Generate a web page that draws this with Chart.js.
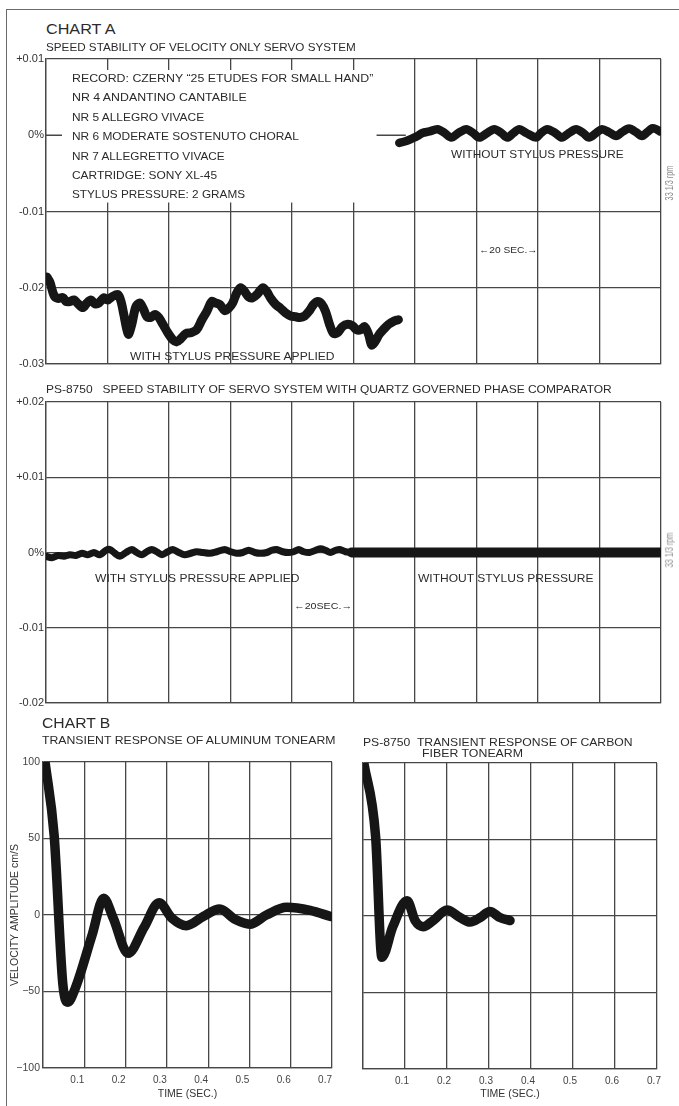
<!DOCTYPE html>
<html>
<head>
<meta charset="utf-8">
<script src="https://cdn.jsdelivr.net/npm/chart.js@4.4.1/dist/chart.umd.min.js"></script>
<style>
  html, body { margin: 0; padding: 0; background: #fff; }
  #page { position: relative; width: 679px; height: 1106px; overflow: hidden;
          font-family: "Liberation Sans", Arial, sans-serif; color: #2b2b2b; }
  canvas { position: absolute; }
  .t { position: absolute; white-space: nowrap; line-height: 1; transform-origin: left center; }
  .rpm { position: absolute; white-space: nowrap; line-height: 1; color: #8a8a8a; font-size: 10px; }
  #frameTop { position: absolute; left: 6px; top: 9px; width: 680px; height: 0; border-top: 1.5px solid #6a6a6a; }
  #frameLeft { position: absolute; left: 6px; top: 9px; width: 0; height: 1100px; border-left: 1.5px solid #6a6a6a; }
</style>
</head>
<body>
<div id="page">
  <div id="frameTop"></div>
  <div id="frameLeft"></div>

  <canvas id="chartA1" width="679" height="330" style="left:0;top:50px"></canvas>
  <canvas id="chartA2" width="679" height="330" style="left:0;top:392px"></canvas>
  <canvas id="chartB1" width="345" height="354" style="left:0;top:752px"></canvas>
  <canvas id="chartB2" width="334" height="354" style="left:345px;top:752px"></canvas>

  <div class="t" data-x="46" data-y="28" data-w="69" style="font-size:15px">CHART A</div>
  <div class="t" data-x="46" data-y="47" data-w="310" style="font-size:11px">SPEED STABILITY OF VELOCITY ONLY SERVO SYSTEM</div>
  <div class="t" data-x="72" data-y="78" data-w="301" style="font-size:11px">RECORD: CZERNY “25 ETUDES FOR SMALL HAND”</div>
  <div class="t" data-x="72" data-y="97" data-w="175" style="font-size:11px">NR 4 ANDANTINO CANTABILE</div>
  <div class="t" data-x="72" data-y="117" data-w="132" style="font-size:11px">NR 5 ALLEGRO VIVACE</div>
  <div class="t" data-x="72" data-y="136" data-w="227" style="font-size:11px">NR 6 MODERATE SOSTENUTO CHORAL</div>
  <div class="t" data-x="72" data-y="156" data-w="153" style="font-size:11px">NR 7 ALLEGRETTO VIVACE</div>
  <div class="t" data-x="72" data-y="175" data-w="145" style="font-size:11px">CARTRIDGE: SONY XL-45</div>
  <div class="t" data-x="72" data-y="194" data-w="173" style="font-size:11px">STYLUS PRESSURE: 2 GRAMS</div>
  <div class="t" data-x="451" data-y="154" data-w="173" style="font-size:11px">WITHOUT STYLUS PRESSURE</div>
  <div class="t" data-x="479" data-y="250" data-w="59" style="font-size:9px">←20 SEC.→</div>
  <div class="t" data-x="130" data-y="356" data-w="204" style="font-size:11px">WITH STYLUS PRESSURE APPLIED</div>

  <div class="t" data-x="46" data-y="389" data-w="566" style="font-size:11px">PS-8750&nbsp;&nbsp; SPEED STABILITY OF SERVO SYSTEM WITH QUARTZ GOVERNED PHASE COMPARATOR</div>
  <div class="t" data-x="95" data-y="578" data-w="204" style="font-size:11px">WITH STYLUS PRESSURE APPLIED</div>
  <div class="t" data-x="418" data-y="578" data-w="176" style="font-size:11px">WITHOUT STYLUS PRESSURE</div>
  <div class="t" data-x="294" data-y="606" data-w="58" style="font-size:9px">←20SEC.→</div>

  <div class="t" data-x="42" data-y="722" data-w="68" style="font-size:15px">CHART B</div>
  <div class="t" data-x="42" data-y="740" data-w="293" style="font-size:11px">TRANSIENT RESPONSE OF ALUMINUM TONEARM</div>
  <div class="t" data-x="363" data-y="742" data-w="270" style="font-size:11px">PS-8750&nbsp; TRANSIENT RESPONSE OF CARBON</div>
  <div class="t" data-x="422" data-y="753" data-w="101" style="font-size:11px">FIBER TONEARM</div>

  <div class="rpm" data-cx="670" data-cy="183" data-len="35">33 1/3 rpm</div>
  <div class="rpm" data-cx="670" data-cy="550" data-len="35">33 1/3 rpm</div>
</div>

<script>
// ---- Chart A, upper panel: velocity-only servo (time in s, 20 s per division; speed deviation in %)
const divisionsA = [0, 20, 40, 60, 80, 100, 120, 140, 160, 180, 200];

const velWithTime = [0.3, 1.3, 2.6, 3.9, 5.5, 6.5, 7.8, 9.1, 10.4, 12.0,
  13.3, 14.6, 15.9, 17.2, 18.8, 20.1, 21.4, 23.4, 24.4, 25.3,
  26.3, 26.9, 27.9, 29.2, 30.5, 31.8, 32.8, 34.1, 35.4, 36.7,
  38.0, 39.6, 41.2, 42.5, 43.8, 45.5, 47.1, 49.0, 50.7, 52.3,
  53.9, 55.2, 56.5, 58.1, 59.4, 60.7, 62.0, 63.3, 64.6, 65.9,
  67.2, 68.8, 70.5, 71.8, 73.1, 74.7, 76.3, 77.9, 79.6, 81.2,
  82.5, 84.1, 85.7, 87.0, 88.3, 89.6, 90.9, 92.2, 93.5, 94.8,
  96.4, 98.1, 99.7, 101.0, 102.3, 103.6, 104.9, 105.9, 106.8, 108.4,
  109.7, 111.4, 113.0, 114.6];
const velWithSpeed = [-0.0186, -0.0193, -0.0210, -0.0214, -0.0213, -0.0218, -0.0218, -0.0216, -0.0221, -0.0226,
  -0.0220, -0.0216, -0.0221, -0.0220, -0.0213, -0.0216, -0.0212, -0.0209, -0.0218, -0.0235,
  -0.0255, -0.0261, -0.0248, -0.0225, -0.0220, -0.0229, -0.0238, -0.0239, -0.0235, -0.0239,
  -0.0248, -0.0259, -0.0268, -0.0271, -0.0267, -0.0260, -0.0259, -0.0255, -0.0242, -0.0231,
  -0.0218, -0.0220, -0.0222, -0.0230, -0.0227, -0.0220, -0.0207, -0.0200, -0.0205, -0.0212,
  -0.0213, -0.0208, -0.0200, -0.0205, -0.0214, -0.0222, -0.0227, -0.0233, -0.0237, -0.0238,
  -0.0239, -0.0237, -0.0230, -0.0222, -0.0218, -0.0221, -0.0231, -0.0248, -0.0260, -0.0259,
  -0.0251, -0.0248, -0.0250, -0.0255, -0.0255, -0.0251, -0.0261, -0.0275, -0.0272, -0.0261,
  -0.0255, -0.0248, -0.0244, -0.0242];

const velFreeTime = [114.9, 116.9, 119.2, 120.8, 122.4, 124.7, 127.3, 129.6, 131.8, 134.1,
  136.7, 138.9, 140.9, 143.5, 145.8, 148.1, 150.0, 152.0, 153.9, 156.2,
  159.4, 161.0, 163.0, 165.6, 167.8, 170.1, 172.4, 174.7, 176.6, 178.9,
  180.8, 183.1, 185.4, 187.3, 189.6, 191.9, 193.8, 195.5, 197.1, 198.4,
  199.7];
const velFreeSpeed = [-0.0010, -0.0008, -0.0004, -0.0001, 0.0003, 0.0005, 0.0008, 0.0003, -0.0003, 0.0003,
  0.0008, 0.0003, -0.0003, 0.0003, 0.0008, 0.0003, -0.0003, 0.0003, 0.0008, 0.0003,
  -0.0003, 0.0003, 0.0008, 0.0003, -0.0003, 0.0003, 0.0008, 0.0003, -0.0003, 0.0003,
  0.0008, 0.0004, -0.0001, 0.0004, 0.0009, 0.0004, -0.0001, 0.0004, 0.0009, 0.0008,
  0.0005];

const speedTicksA1 = [0.01, 0, -0.01, -0.02, -0.03];
const speedLabelsA1 = ["+0.01", "0%", "-0.01", "-0.02", "-0.03"];

// ---- Chart A, lower panel: PS-8750 quartz phase comparator
const quartzWithTime = [0, 1.9, 3.9, 5.8, 7.8, 9.7, 11.7, 13.6, 15.6, 17.5, 19.5, 20.8, 22.4, 24.0, 26.0,
  27.9, 29.5, 31.2, 32.8, 34.4, 36.0, 37.7, 39.6, 41.2, 43.2, 45.1, 47.1, 49.0, 51.0, 53.2,
  55.5, 58.1, 60.1, 62.0, 64.0, 65.9, 67.9, 69.8, 71.8, 73.4, 75.0, 77.0, 78.9, 80.5, 82.2,
  83.8, 85.7, 87.7, 89.3, 90.9, 92.5, 94.2, 95.5, 97.4, 99.4];
const quartzWithSpeed = [-0.0005, -0.0007, -0.0004, -0.0005, -0.0003, -0.0004, -0.0001, -0.0003, 0, -0.0003,
  0.0003, 0.0004, -0.0001, -0.0005, 0, 0.0004, 0, -0.0003, 0.0001, 0.0004,
  0.0001, -0.0003, 0.0001, 0.0004, 0, -0.0003, -0.0001, 0.0001, 0, -0.0001,
  0.0001, 0.0004, 0.0001, -0.0001, 0, 0.0003, 0, -0.0001, 0, 0.0003,
  0.0004, 0.0001, 0, 0.0001, 0.0004, 0.0001, 0, 0.0003, 0.0005, 0.0003,
  0, 0.0003, 0.0004, 0.0001, 0];
const quartzFreeTime = [99.4, 120, 140, 160, 180, 200];
const quartzFreeSpeed = [0, 0, 0, 0, 0, 0];

const speedTicksA2 = [0.02, 0.01, 0, -0.01, -0.02];
const speedLabelsA2 = ["+0.02", "+0.01", "0%", "-0.01", "-0.02"];

// ---- Chart B: transient response (time in s, velocity amplitude in cm/s)
const aluminumTime = [0.005, 0.027, 0.048, 0.060, 0.078, 0.119, 0.147, 0.170, 0.206, 0.245, 0.281,
  0.312, 0.347, 0.388, 0.428, 0.466, 0.501, 0.541, 0.590, 0.647, 0.697];
const aluminumVelocity = [100, 52, -45, -57, -48, -13, 11, -2, -25, -8, 8, -2, -7, -1, 4, -3, -6, 0, 5, 3, -1];

const carbonTime = [0.002, 0.030, 0.045, 0.071, 0.105, 0.124, 0.143, 0.167, 0.200, 0.231, 0.255,
  0.279, 0.302, 0.326, 0.350];
const carbonVelocity = [100, 52, -27, -7, 10, -3, -7, -3, 4, -1, -4, -1, 3, -1, -3];

const timeTicksB = [0, 0.1, 0.2, 0.3, 0.4, 0.5, 0.6, 0.7];
const timeLabelsB = ["", "0.1", "0.2", "0.3", "0.4", "0.5", "0.6", "0.7"];
const velocityTicks = [100, 50, 0, -50, -100];
const velocityLabels = ["100", "50", "0", "−50", "−100"];

Chart.defaults.font.family = "'Liberation Sans', Arial, sans-serif";
Chart.defaults.color = "#333";

const INK = "#161616";
const GRID = "#474747";

function pts(xs, ys) {
  return xs.map((x, i) => ({ x: x, y: ys[i] }));
}
function labelFor(values, labels) {
  return function (v) {
    const i = values.findIndex(t => Math.abs(t - v) < 1e-9);
    return i < 0 ? "" : labels[i];
  };
}
function fixedTicks(values) {
  return function (scale) {
    scale.ticks = values.map(v => ({ value: v }));
  };
}
function trace(xs, ys, width, smooth) {
  const ds = {
    data: pts(xs, ys), borderColor: INK, borderWidth: width, pointRadius: 0,
    borderCapStyle: "round", borderJoinStyle: "round", fill: false
  };
  if (smooth === "monotone") ds.cubicInterpolationMode = "monotone";
  else ds.tension = 0.3;
  return ds;
}

const baseOpts = { responsive: false, animation: false, devicePixelRatio: 1 };
const noPlugins = { legend: { display: false }, tooltip: { enabled: false } };

function speedChart(id, yTicks, yLabels, datasets, pad, hideZero, extra) {
  return new Chart(document.getElementById(id), {
    type: "line",
    data: { datasets: datasets },
    options: Object.assign({}, baseOpts, {
      layout: { padding: pad },
      plugins: noPlugins,
      scales: {
        x: {
          type: "linear", min: 0, max: 200,
          afterBuildTicks: fixedTicks(divisionsA),
          ticks: { display: false },
          grid: { color: GRID, lineWidth: 1.3, drawTicks: false },
          border: { color: GRID, width: 1.3 },
          afterFit: s => { s.height = 0; }
        },
        y: {
          min: yTicks[yTicks.length - 1], max: yTicks[0],
          afterBuildTicks: fixedTicks(yTicks),
          ticks: { callback: labelFor(yTicks, yLabels), padding: 2, font: { size: 11 }, color: "#333" },
          grid: {
            lineWidth: 1.3, drawTicks: false,
            color: c => (hideZero && c.tick && c.tick.value === 0) ? "rgba(0,0,0,0)" : GRID
          },
          border: { color: GRID, width: 1.3 },
          afterFit: s => { s.width = 46; }
        }
      }
    }),
    plugins: extra || []
  });
}

// text block in the upper-left of the first panel interrupts the grid
const recordBox = {
  id: "recordBox",
  beforeDatasetsDraw(chart) {
    const { ctx, scales: { x, y } } = chart;
    const left = x.left, top = y.top;
    const boxRight = x.getPixelForValue(120);
    const boxBottom = y.getPixelForValue(-0.01);
    const y0 = y.getPixelForValue(0);
    ctx.save();
    ctx.fillStyle = "#fff";
    ctx.fillRect(left + 1, top + 11, boxRight - left - 2, boxBottom - top - 20);
    ctx.strokeStyle = GRID;
    ctx.lineWidth = 1.3;
    ctx.beginPath();
    ctx.moveTo(left, y0);
    ctx.lineTo(left + 16, y0);
    ctx.moveTo(x.getPixelForValue(107.5), y0);
    ctx.lineTo(x.getPixelForValue(117), y0);
    ctx.stroke();
    ctx.restore();
  }
};

speedChart("chartA1", speedTicksA1, speedLabelsA1, [
  trace(velWithTime, velWithSpeed, 9),
  trace(velFreeTime, velFreeSpeed, 8.5)
], { top: 9, right: 18, bottom: 16, left: 0 }, true, [recordBox]);

speedChart("chartA2", speedTicksA2, speedLabelsA2, [
  trace(quartzWithTime, quartzWithSpeed, 7),
  trace(quartzFreeTime, quartzFreeSpeed, 10, "monotone")
], { top: 10, right: 18, bottom: 19, left: 0 }, false);

function transientChart(id, xs, ys, opts) {
  return new Chart(document.getElementById(id), {
    type: "line",
    data: { datasets: [trace(xs, ys, 9.5, "monotone")] },
    options: Object.assign({}, baseOpts, {
      layout: { padding: opts.pad },
      plugins: noPlugins,
      scales: {
        x: {
          type: "linear", min: 0, max: 0.7,
          afterBuildTicks: fixedTicks(timeTicksB),
          ticks: {
            callback: labelFor(timeTicksB, timeLabelsB), padding: 6, labelOffset: opts.labelOffset,
            maxRotation: 0, autoSkip: false, font: { size: 10 }, color: "#444"
          },
          grid: { color: GRID, lineWidth: 1.3, drawTicks: false },
          border: { color: GRID, width: 1.3 },
          title: { display: true, text: "TIME (SEC.)", font: { size: 10.5 }, color: "#333", padding: { top: 0, bottom: 6 } },
          afterFit: s => { s.height = opts.xHeight; }
        },
        y: {
          min: -100, max: 100,
          afterBuildTicks: fixedTicks(velocityTicks),
          ticks: {
            display: opts.yLabels, callback: labelFor(velocityTicks, velocityLabels),
            padding: 3, font: { size: 10.5 }, color: "#444"
          },
          grid: { color: GRID, lineWidth: 1.3, drawTicks: false },
          border: { color: GRID, width: 1.3 },
          title: {
            display: opts.yLabels, text: "VELOCITY AMPLITUDE cm/S", font: { size: 10.5 },
            color: "#333", padding: { top: 9, bottom: 0 }
          },
          afterFit: s => { s.width = opts.yWidth; }
        }
      }
    })
  });
}

transientChart("chartB1", aluminumTime, aluminumVelocity,
  { pad: { top: 10, right: 6, bottom: 0, left: 0 }, labelOffset: -7, xHeight: 38, yWidth: 43, yLabels: true });
transientChart("chartB2", carbonTime, carbonVelocity,
  { pad: { top: 11, right: 22, bottom: 0, left: 0 }, labelOffset: -3, xHeight: 37, yWidth: 18, yLabels: false });

// place the captions and squeeze them to the widths seen in the original
document.querySelectorAll(".t").forEach(el => {
  const w = el.offsetWidth, h = el.offsetHeight;
  el.style.left = el.dataset.x + "px";
  el.style.top = (parseFloat(el.dataset.y) - h / 2) + "px";
  el.style.transform = "scaleX(" + (parseFloat(el.dataset.w) / w).toFixed(3) + ")";
});
document.querySelectorAll(".rpm").forEach(el => {
  const w = el.offsetWidth, h = el.offsetHeight;
  el.style.left = (parseFloat(el.dataset.cx) - w / 2) + "px";
  el.style.top = (parseFloat(el.dataset.cy) - h / 2) + "px";
  el.style.transform = "rotate(-90deg) scaleX(" + (parseFloat(el.dataset.len) / w).toFixed(3) + ")";
});
</script>
</body>
</html>
